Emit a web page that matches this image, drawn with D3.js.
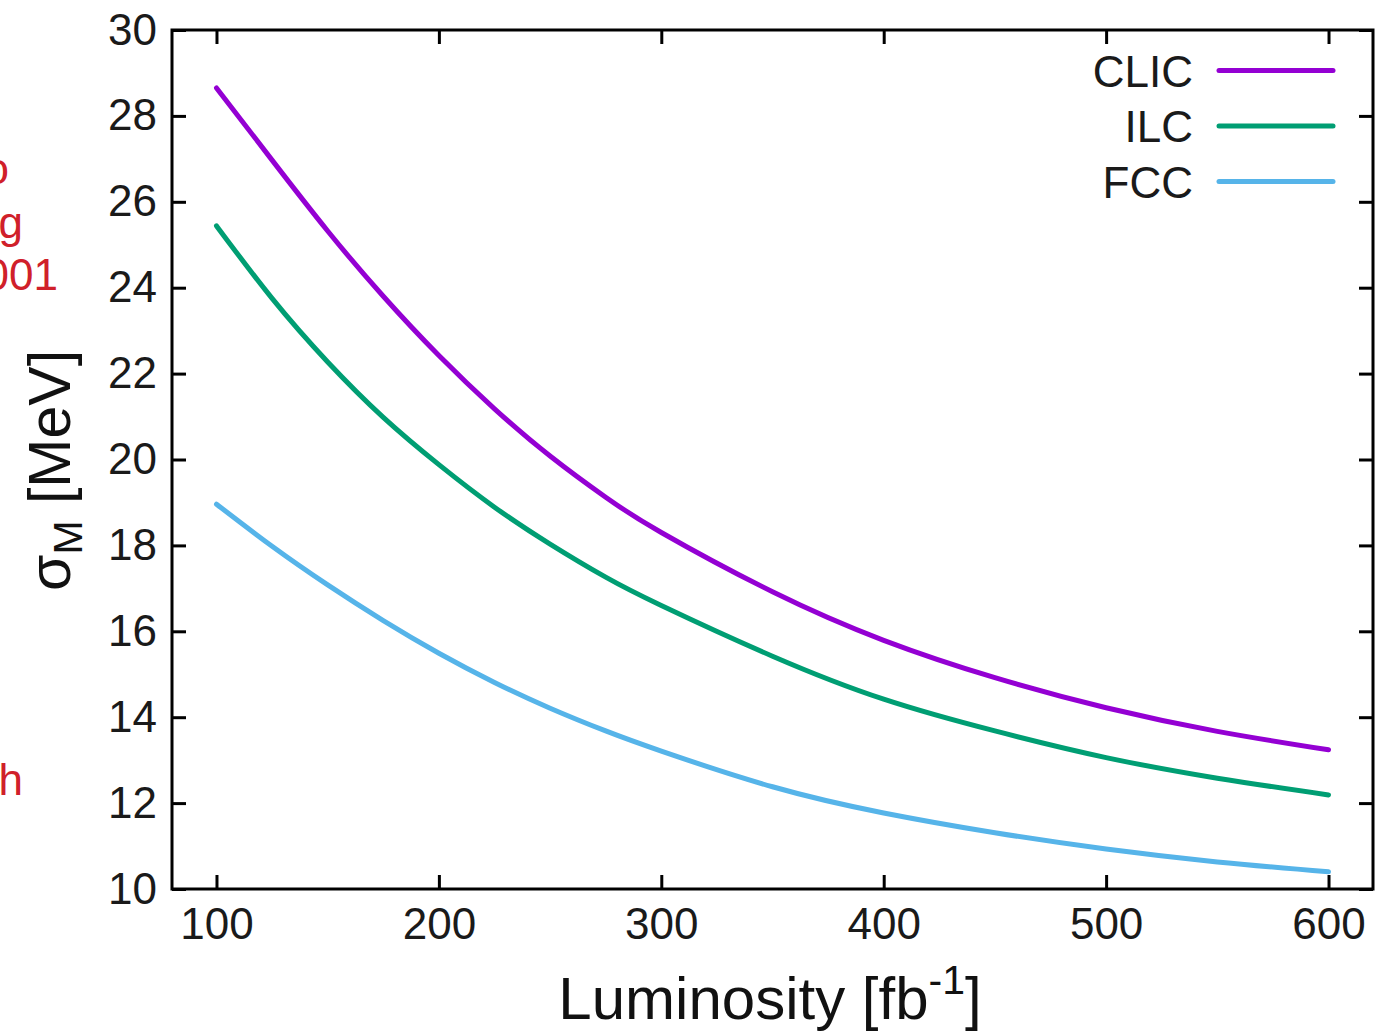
<!DOCTYPE html>
<html>
<head>
<meta charset="utf-8">
<script src="https://cdn.jsdelivr.net/npm/d3@7"></script>
<style>
  html, body { margin: 0; padding: 0; background: #fff; }
  svg { display: block; font-family: "Liberation Sans", Arial, sans-serif; }
</style>
</head>
<body>
<svg id="chart" width="1375" height="1034"></svg>
<script>
// ---- data ----
const luminosity = [100, 125, 150, 175, 200, 225, 250, 275, 300, 350, 400, 450, 500, 550, 600];
const clicValues = [28.65, 26.97, 25.32, 23.80, 22.42, 21.18, 20.08, 19.12, 18.30, 16.92, 15.79, 14.92, 14.22, 13.67, 13.24];
const ilcValues  = [25.44, 23.75, 22.27, 20.98, 19.88, 18.89, 18.03, 17.26, 16.60, 15.42, 14.42, 13.68, 13.06, 12.58, 12.19];
const fccValues  = [18.96, 17.98, 17.08, 16.25, 15.49, 14.81, 14.21, 13.68, 13.21, 12.38, 11.77, 11.31, 10.93, 10.63, 10.40];
const seriesNames = ["CLIC", "ILC", "FCC"];
const seriesColors = ["#9400d3", "#009e73", "#56b4e9"];
const xTicks = [100, 200, 300, 400, 500, 600];
const yTicks = [10, 12, 14, 16, 18, 20, 22, 24, 26, 28, 30];
const sideNotes = ["o", "g", "001", "h"];

const series = [clicValues, ilcValues, fccValues].map((vals, i) => ({
  name: seriesNames[i], color: seriesColors[i],
  points: luminosity.map((l, j) => [l, vals[j]])
}));

const svg = d3.select("#chart");
const L = 172, R = 1373, T = 30, B = 889;
const x = d3.scaleLinear().domain([80, 620]).range([L, R]);
const y = d3.scaleLinear().domain([10, 30]).range([B, T]);
const FS = 44;

// red side notes, clipped at the left edge as in the reference
const noteG = svg.append("g").attr("fill", "#d0202a").attr("font-size", FS).attr("text-anchor", "end");
const notePos = [[9, 184], [23, 238], [58, 290], [23, 795]];
sideNotes.forEach((t, i) => noteG.append("text").attr("x", notePos[i][0]).attr("y", notePos[i][1]).text(t));

// axes (inward ticks on all four sides)
const tick = 14;
const gB = svg.append("g").attr("transform", `translate(0,${B})`)
  .call(d3.axisBottom(x).tickValues(xTicks).tickSize(-tick).tickPadding(19).tickFormat(d3.format("d")));
const gL = svg.append("g").attr("transform", `translate(${L},0)`)
  .call(d3.axisLeft(y).tickValues(yTicks).tickSize(-tick).tickPadding(15).tickFormat(d3.format("d")));
const gT = svg.append("g").attr("transform", `translate(0,${T})`)
  .call(d3.axisTop(x).tickValues(xTicks).tickSize(-tick).tickFormat(""));
const gR = svg.append("g").attr("transform", `translate(${R},0)`)
  .call(d3.axisRight(y).tickValues(yTicks).tickSize(-tick).tickFormat(""));
[gB, gL, gT, gR].forEach(g => {
  g.select(".domain").remove();
  g.selectAll(".tick line").attr("stroke", "#000").attr("stroke-width", 3);
  g.selectAll(".tick text").attr("font-size", FS).attr("fill", "#1a1a1a")
    .attr("font-family", "'Liberation Sans', Arial, sans-serif");
});

// curves
const line = d3.line().x(d => x(d[0])).y(d => y(d[1])).curve(d3.curveNatural);
series.forEach(s => {
  svg.append("path").datum(s.points).attr("d", line)
    .attr("fill", "none").attr("stroke", s.color).attr("stroke-width", 5)
    .attr("stroke-linecap", "round").attr("stroke-linejoin", "round");
});

// frame
svg.append("rect").attr("x", L).attr("y", T).attr("width", R - L).attr("height", B - T)
  .attr("fill", "none").attr("stroke", "#000").attr("stroke-width", 3);

// legend
const lg = svg.append("g");
series.forEach((s, i) => {
  const yy = 70.5 + i * 55.5;
  lg.append("text").attr("x", 1193).attr("y", yy + 16).attr("text-anchor", "end")
    .attr("font-size", FS).attr("fill", "#1a1a1a").text(s.name);
  lg.append("line").attr("x1", 1219).attr("x2", 1333).attr("y1", yy).attr("y2", yy)
    .attr("stroke", s.color).attr("stroke-width", 5).attr("stroke-linecap", "round");
});

// x title
const xt = svg.append("text").attr("x", 770).attr("y", 1019).attr("text-anchor", "middle")
  .attr("font-size", 60).attr("fill", "#111");
xt.append("tspan").text("Luminosity [fb");
xt.append("tspan").attr("font-size", 41).attr("dy", -25).text("-1");
xt.append("tspan").attr("dy", 25).text("]");

// y title
const yt = svg.append("text").attr("transform", `translate(70,${(T + B) / 2 + 11}) rotate(-90)`)
  .attr("text-anchor", "middle").attr("font-size", 59).attr("fill", "#111");
yt.append("tspan").text("σ");
yt.append("tspan").attr("font-size", 41).attr("dy", 12).text("M");
yt.append("tspan").attr("dy", -12).text(" [MeV]");
</script>
</body>
</html>
